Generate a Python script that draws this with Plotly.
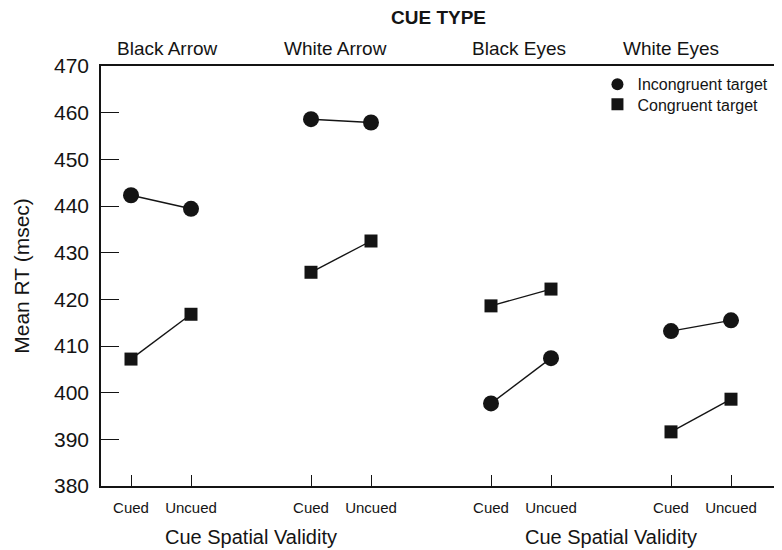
import plotly.graph_objects as go

cue_types = ["Black Arrow", "White Arrow", "Black Eyes", "White Eyes"]
validity = ["Cued", "Uncued"]
x_positions = [1, 2, 4, 5, 7, 8, 10, 11]
tick_labels = ["Cued", "Uncued"] * 4
incongruent = [442.3, 439.4, 458.6, 457.9, 397.7, 407.4, 413.2, 415.5]
congruent = [407.2, 416.8, 425.8, 432.5, 418.6, 422.2, 391.6, 398.6]
label_x = [1.6, 4.4, 7.47, 10.0]
validity_title_x = [3, 9]

INK = "#141414"
FONT = "Liberation Sans, Arial, sans-serif"


def with_gaps(xs, ys):
    gx, gy = [], []
    for i in range(0, len(xs), 2):
        gx += [xs[i], xs[i + 1], None]
        gy += [ys[i], ys[i + 1], None]
    return gx, gy


fig = go.Figure()
for name, vals, sym, size, leg in [
    ("Incongruent target", incongruent, "circle", 16, "legend"),
    ("Congruent target", congruent, "square", 13, "legend2"),
]:
    lx, ly = with_gaps(x_positions, vals)
    fig.add_trace(go.Scatter(x=lx, y=ly, mode="lines", line=dict(color=INK, width=1.4),
                             showlegend=False, hoverinfo="skip"))
    fig.add_trace(go.Scatter(x=x_positions, y=vals, mode="markers", name=name, legend=leg,
                             marker=dict(symbol=sym, size=size, color=INK,
                                         line=dict(width=0))))

annotations = []
for cx, lab in zip(label_x, cue_types):
    annotations.append(dict(x=cx, xref="x", y=1, yref="paper", text=lab, showarrow=False,
                            yanchor="middle", yshift=18, font=dict(size=19, color=INK)))
annotations.append(dict(x=0.495, xref="paper", y=1, yref="paper", text="<b>CUE TYPE</b>",
                        showarrow=False, yanchor="middle", yshift=49,
                        font=dict(size=19, color=INK)))
for vx in validity_title_x:
    annotations.append(dict(x=vx, xref="x", y=0, yref="paper", text="Cue Spatial Validity",
                            showarrow=False, yanchor="middle", yshift=-51,
                            font=dict(size=20, color=INK)))

legend_style = dict(xanchor="left", yanchor="top", font=dict(size=16, color=INK),
                    bgcolor="rgba(0,0,0,0)", itemsizing="constant")

# page body adds an 8px margin, so the figure is drawn 8px smaller
fig.update_layout(
    width=774, height=542,
    margin=dict(l=93, r=0, t=58, b=64, autoexpand=False),
    paper_bgcolor="white", plot_bgcolor="white",
    font=dict(family=FONT, color=INK),
    showlegend=True,
    legend=dict(x=0.729, y=0.997, **legend_style),
    legend2=dict(x=0.729, y=0.949, **legend_style),
    annotations=annotations,
)
fig.update_xaxes(range=[0.5, 11.85], tickvals=x_positions, ticktext=tick_labels,
                 ticks="inside", ticklen=11, tickwidth=1.3, tickcolor=INK,
                 showline=True, linecolor=INK, linewidth=1.5, mirror=True,
                 showgrid=False, zeroline=False, automargin=False,
                 ticklabelstandoff=7, tickfont=dict(size=15, color=INK))
fig.update_yaxes(range=[380, 470], dtick=10, tick0=380,
                 ticks="inside", ticklen=18, tickwidth=1.3, tickcolor=INK,
                 showline=True, linecolor=INK, linewidth=1.5,
                 showgrid=False, zeroline=False, automargin=False,
                 ticklabelstandoff=6, tickfont=dict(size=21, color=INK),
                 title=dict(text="Mean RT (msec)", font=dict(size=21, color=INK), standoff=19))

fig.write_html("out.html")
